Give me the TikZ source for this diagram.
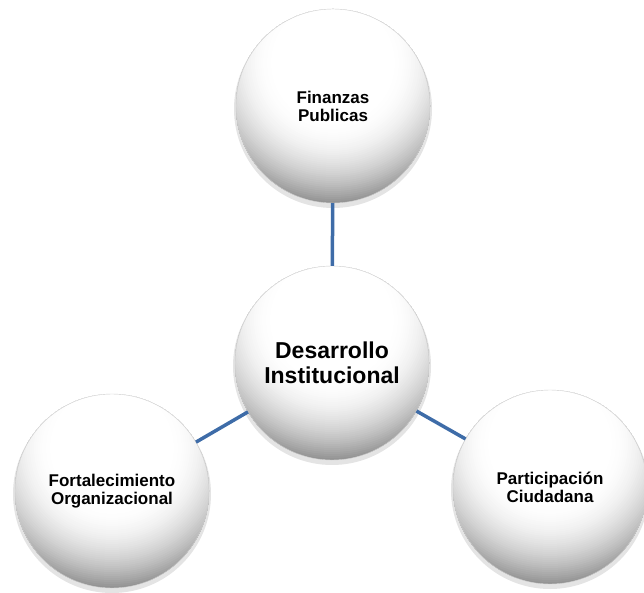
\documentclass[tikz,border=0pt]{standalone}
\usepackage{fontspec}
\setmainfont{Liberation Sans}
\definecolor{linkblue}{RGB}{62,108,168}

\begin{document}
\begin{tikzpicture}[x=1pt, y=-1pt,
   shadowdisc/.style={circle, minimum size=198pt, inner sep=0pt, fill=black!30, opacity=0.35},
   ball/.style={circle, minimum size=194pt, inner sep=0pt, fill=white,
      draw=black!20, line width=0.4pt,
      path picture={
         \foreach \k in {0,...,41} {
            \pgfmathsetmacro\r{140-2*\k}
            \pgfmathsetmacro\g{max(0,42*((\r-58)/82)^2)}
            \fill[black!\g] ([yshift=43pt]path picture bounding box.center) circle[radius=\r pt];
         }
      },
      align=center, font=\bfseries\fontsize{17}{18}\selectfont},
   bigball/.style={ball, font=\bfseries\fontsize{23}{25}\selectfont},
   link/.style={draw=linkblue, line width=3.5pt}]%
   \useasboundingbox (0,0) rectangle (644,593);
   \foreach \x/\y in {333/109, 332/366, 112/494, 550/490}
      \node[shadowdisc] at (\x,\y) {};
   \node[ball] (finanzas) at (333,106) {Finanzas\\Publicas};
   \node[bigball] (desarrollo) at (332,363) {Desarrollo\\Institucional};
   \node[ball] (fortalecimiento) at (112,491) {Fortalecimiento\\Organizacional};
   \node[ball] (participacion) at (550,487) {Participación\\Ciudadana};
   \draw[link] (finanzas) -- (desarrollo);
   \draw[link] (desarrollo) -- (fortalecimiento);
   \draw[link] (desarrollo) -- (participacion);
\end{tikzpicture}
\end{document}
